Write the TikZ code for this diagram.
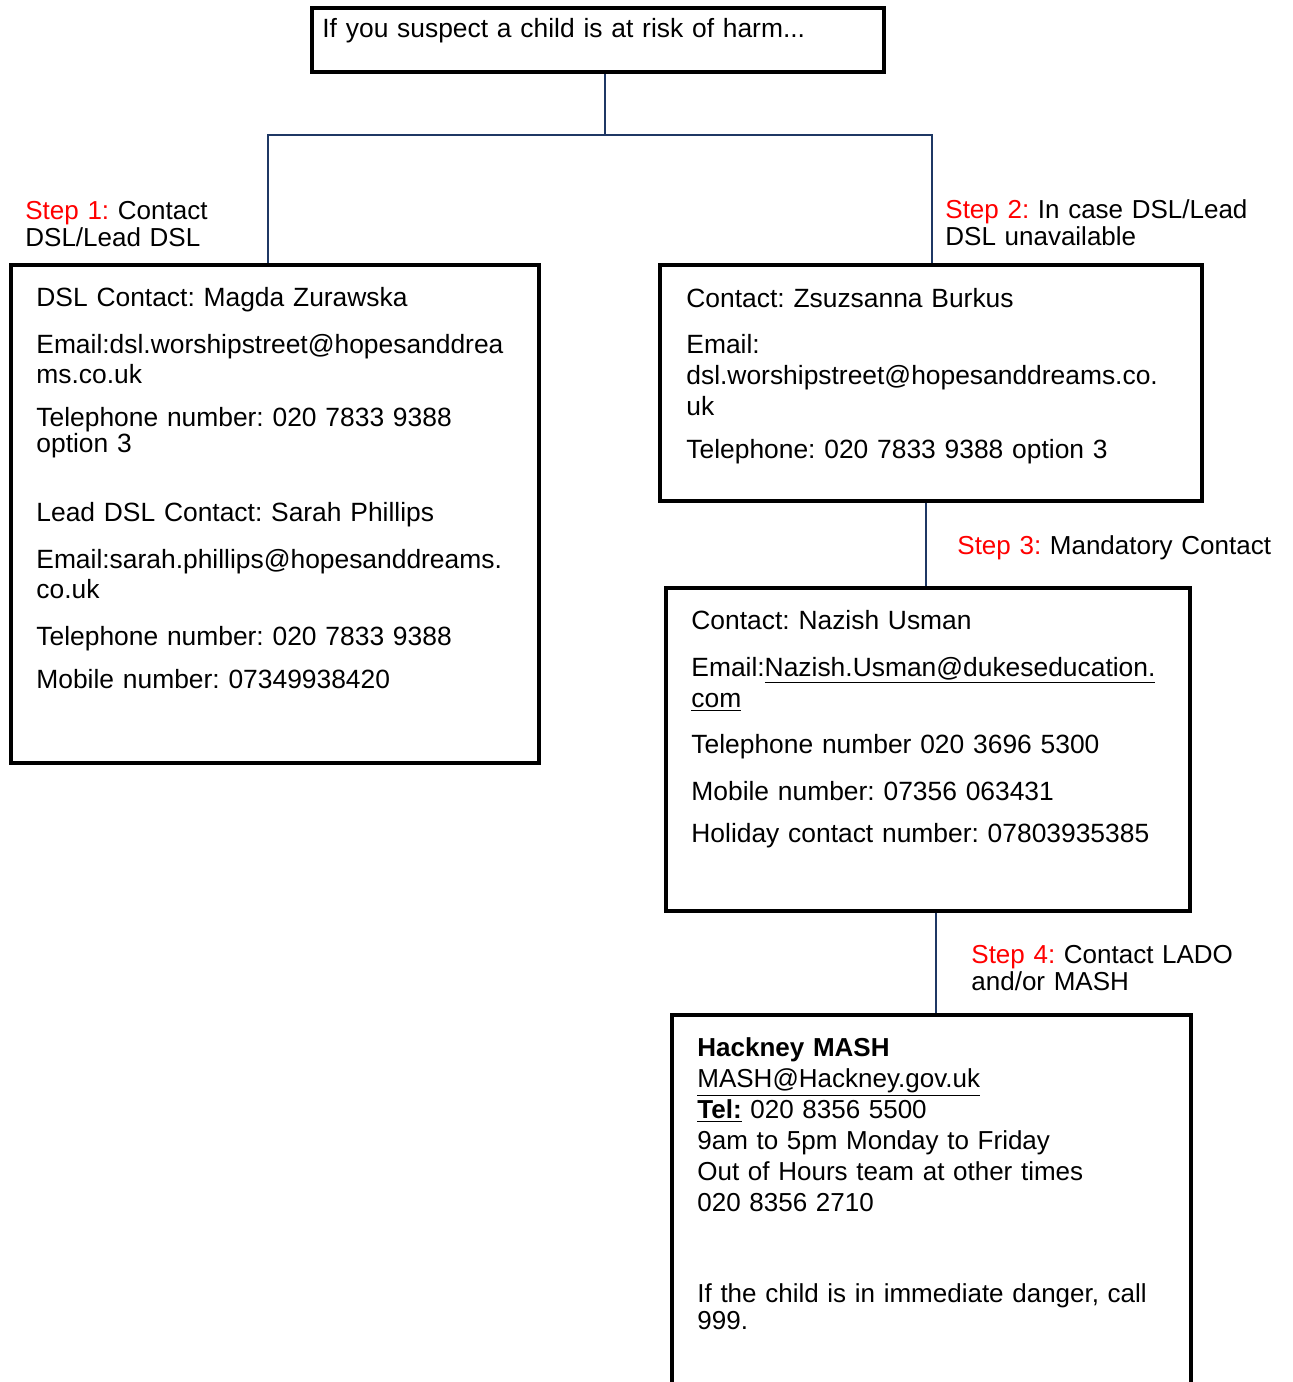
\documentclass[tikz,border=0pt]{standalone}
\usepackage{fontspec}
\setmainfont{Liberation Sans}
\usetikzlibrary{fit}
\definecolor{linkblue}{HTML}{1F3864}
\newcommand{\stepno}[1]{\textcolor{red}{Step #1:}}
\frenchspacing

\begin{document}
\begin{tikzpicture}[x = 0.5pt, y = -0.5pt,
    box/.style = {draw, line width = 2.3pt, inner sep = 0pt},
    link/.style = {draw = linkblue, line width = 1.1pt},
    info/.style = {anchor = base west, inner sep = 0pt, align = left, text width = 250pt, font = \fontsize{13.2}{15}\selectfont},
    steplabel/.style = {anchor = base west, inner sep = 0pt, align = left, text width = 170pt, font = \fontsize{13}{13.5}\selectfont}]
                \useasboundingbox (0, 0) rectangle (1292, 1382);
                \clip (0, 0) rectangle (1292, 1382);
                % boxes
                \node[box, fit = {(312, 8) (884, 72)}] (harm) {};
                \node[box, fit = {(11, 265) (539, 763)}] (dsl) {};
                \node[box, fit = {(660, 265) (1202, 501)}] (deputy) {};
                \node[box, fit = {(666, 588) (1190, 911)}] (mandatory) {};
                \node[box, fit = {(672, 1015) (1191, 1420)}] (mash) {};
                % connectors
                \draw[link] ([xshift = 3.5pt]harm.south) -- ++(0, 61) coordinate (split);
                \draw[link] ([xshift = -3.5pt]dsl.north) |- (split) -| ([xshift = 0.5pt]deputy.north);
                \draw[link] ([xshift = -2.5pt]deputy.south) -- ([xshift = -1pt]mandatory.north);
                \draw[link] ([xshift = 4pt]mandatory.south) -- ([xshift = 2.25pt]mash.north);
                % step labels
                \node[steplabel] (step1) at (25, 219) {\stepno{1} Contact\\DSL/Lead DSL};
                \node[steplabel] (step2) at (945, 218) {\stepno{2} In case DSL/Lead\\DSL unavailable};
                \node[steplabel] (step3) at (957, 554) {\stepno{3} Mandatory Contact};
                \node[steplabel] (step4) at (971, 963) {\stepno{4} Contact LADO\\and/or MASH};
                % box texts
                \node[info] (harmtext) at (322, 37) {If you suspect a child is at risk of harm...};
                \node[info] (dsltext) at (36, 306) {DSL Contact: Magda Zurawska\\[8.5pt]
                    Email:dsl.worshipstreet@hopesanddrea\\
                    ms.co.uk\\[6.5pt]
                    Telephone number: 020 7833 9388\\[-2pt]
                    option 3\\[19.5pt]
                    Lead DSL Contact: Sarah Phillips\\[8.5pt]
                    Email:sarah.phillips@hopesanddreams.\\
                    co.uk\\[8.5pt]
                    Telephone number: 020 7833 9388\\[6.5pt]
                    Mobile number: 07349938420};
                \node[info] (deputytext) at (686, 307) {Contact: Zsuzsanna Burkus\\[8pt]
                    Email:\\[0.5pt]
                    dsl.worshipstreet@hopesanddreams.co.\\[0.5pt]
                    uk\\[6.5pt]
                    Telephone: 020 7833 9388 option 3};
                \node[info] (mandatorytext) at (691, 629) {Contact: Nazish Usman\\[8.5pt]
                    Email:\underline{Nazish.Usman@dukeseducation.}\\[0.5pt]
                    \underline{com}\\[8pt]
                    Telephone number 020 3696 5300\\[8.5pt]
                    Mobile number: 07356 063431\\[6pt]
                    Holiday contact number: 07803935385};
                \node[info, font = \fontsize{13}{15.5}\selectfont] (mashtext) at (697, 1056) {\textbf{Hackney MASH}\\
                    \underline{MASH@Hackney.gov.uk}\\
                    \underline{\textbf{Tel:}} 020 8356 5500\\
                    9am to 5pm Monday to Friday\\
                    Out of Hours team at other times\\
                    020 8356 2710\\[30pt]
                    If the child is in immediate danger, call\\[-2pt]
                    999.};
            \end{tikzpicture}
\end{document}
